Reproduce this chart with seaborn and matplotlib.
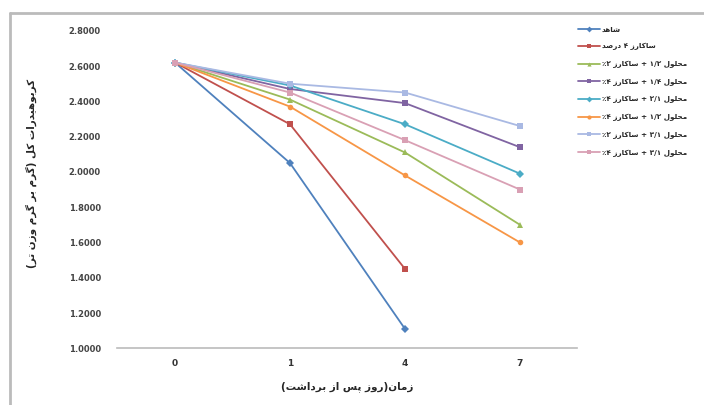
import matplotlib
matplotlib.use("Agg")
import matplotlib.pyplot as plt
import seaborn as sns
import pandas as pd
from matplotlib.lines import Line2D

# ---------------- data ----------------
days = ["0", "1", "4", "7"]
series_names = [
    "شاهد",
    "ساکارز ۴ درصد",
    "محلول ۱/۲ + ساکارز ۲٪",
    "محلول ۱/۴ + ساکارز ۴٪",
    "محلول ۲/۱ + ساکارز ۴٪",
    "محلول ۱/۲ + ساکارز ۴٪",
    "محلول ۳/۱ + ساکارز ۲٪",
    "محلول ۳/۱ + ساکارز ۴٪",
]
v_control = [2.62, 2.05, 1.11, None]
v_sucrose = [2.62, 2.27, 1.45, None]
v_green = [2.62, 2.41, 2.11, 1.70]
v_purple = [2.62, 2.47, 2.39, 2.14]
v_aqua = [2.62, 2.49, 2.27, 1.99]
v_orange = [2.62, 2.37, 1.98, 1.60]
v_lav = [2.62, 2.50, 2.45, 2.26]
v_pink = [2.62, 2.45, 2.18, 1.90]
all_values = [v_control, v_sucrose, v_green, v_purple, v_aqua, v_orange, v_lav, v_pink]

colors = ["#4F81BD", "#C0504D", "#9BBB59", "#8064A2", "#4BACC6", "#F79646",
          "#A9B9E3", "#D9A0B4"]
markers = ["D", "s", "^", "s", "D", "o", "s", "s"]

xlabel = "زمان(روز پس از برداشت)"
ylabel = "کربوهیدرات کل (گرم بر گرم وزن تر)"
yticks = [1.0, 1.2, 1.4, 1.6, 1.8, 2.0, 2.2, 2.4, 2.6, 2.8]

# ---------------- simple Persian shaping ----------------
FORMS = {
    "ا": ("\uFE8D", "\uFE8E", None, None),
    "ب": ("\uFE8F", "\uFE90", "\uFE91", "\uFE92"),
    "پ": ("\uFB56", "\uFB57", "\uFB58", "\uFB59"),
    "ت": ("\uFE95", "\uFE96", "\uFE97", "\uFE98"),
    "ث": ("\uFE99", "\uFE9A", "\uFE9B", "\uFE9C"),
    "ج": ("\uFE9D", "\uFE9E", "\uFE9F", "\uFEA0"),
    "چ": ("\uFB7A", "\uFB7B", "\uFB7C", "\uFB7D"),
    "ح": ("\uFEA1", "\uFEA2", "\uFEA3", "\uFEA4"),
    "خ": ("\uFEA5", "\uFEA6", "\uFEA7", "\uFEA8"),
    "د": ("\uFEA9", "\uFEAA", None, None),
    "ذ": ("\uFEAB", "\uFEAC", None, None),
    "ر": ("\uFEAD", "\uFEAE", None, None),
    "ز": ("\uFEAF", "\uFEB0", None, None),
    "ژ": ("\uFB8A", "\uFB8B", None, None),
    "س": ("\uFEB1", "\uFEB2", "\uFEB3", "\uFEB4"),
    "ش": ("\uFEB5", "\uFEB6", "\uFEB7", "\uFEB8"),
    "ص": ("\uFEB9", "\uFEBA", "\uFEBB", "\uFEBC"),
    "ض": ("\uFEBD", "\uFEBE", "\uFEBF", "\uFEC0"),
    "ط": ("\uFEC1", "\uFEC2", "\uFEC3", "\uFEC4"),
    "ظ": ("\uFEC5", "\uFEC6", "\uFEC7", "\uFEC8"),
    "ع": ("\uFEC9", "\uFECA", "\uFECB", "\uFECC"),
    "غ": ("\uFECD", "\uFECE", "\uFECF", "\uFED0"),
    "ف": ("\uFED1", "\uFED2", "\uFED3", "\uFED4"),
    "ق": ("\uFED5", "\uFED6", "\uFED7", "\uFED8"),
    "ک": ("\uFB8E", "\uFB8F", "\uFB90", "\uFB91"),
    "گ": ("\uFB92", "\uFB93", "\uFB94", "\uFB95"),
    "ل": ("\uFEDD", "\uFEDE", "\uFEDF", "\uFEE0"),
    "م": ("\uFEE1", "\uFEE2", "\uFEE3", "\uFEE4"),
    "ن": ("\uFEE5", "\uFEE6", "\uFEE7", "\uFEE8"),
    "و": ("\uFEED", "\uFEEE", None, None),
    "ه": ("\uFEE9", "\uFEEA", "\uFEEB", "\uFEEC"),
    "ی": ("\uFBFC", "\uFBFD", "\uFBFE", "\uFBFF"),
}
MIRROR = {"(": ")", ")": "("}
LTR_CH = set("0123456789۰۱۲۳۴۵۶۷۸۹/.")


def shape(s):
    out = []
    n = len(s)
    for i, c in enumerate(s):
        if c not in FORMS:
            out.append(c)
            continue
        f = FORMS[c]
        prev_j = i > 0 and s[i - 1] in FORMS and FORMS[s[i - 1]][2] is not None
        next_j = (f[2] is not None) and i + 1 < n and s[i + 1] in FORMS
        if prev_j and next_j:
            out.append(f[3])
        elif next_j:
            out.append(f[2])
        elif prev_j:
            out.append(f[1])
        else:
            out.append(f[0])
    shaped = "".join(out)
    runs = []
    for c in shaped:
        ltr = c in LTR_CH
        if runs and runs[-1][0] == ltr:
            runs[-1][1].append(c)
        else:
            runs.append([ltr, [c]])
    vis = []
    for ltr, chars in reversed(runs):
        if ltr:
            vis.append("".join(chars))
        else:
            vis.append("".join(MIRROR.get(ch, ch) for ch in reversed(chars)))
    return "".join(vis)


# ---------------- plotting ----------------
sns.set_theme(style="white")
plt.rcParams["font.family"] = ["DejaVu Sans"]

rows = []
for name, vals in zip(series_names, all_values):
    for d, v in zip(days, vals):
        if v is not None:
            rows.append({"day": d, "value": v, "series": shape(name)})
df = pd.DataFrame(rows)
df["x"] = df["day"].map({d: i for i, d in enumerate(days)})

fig = plt.figure(figsize=(7.04, 4.05), dpi=100)
ax = fig.add_axes([0.1669, 0.140, 0.6534, 0.784])

hue_order = [shape(n) for n in series_names]
sns.lineplot(data=df, x="x", y="value", hue="series", hue_order=hue_order,
             palette=colors, style="series", style_order=hue_order,
             markers=markers, dashes=False, markersize=4, linewidth=1.3,
             markeredgewidth=0.0, ax=ax, legend=False, sort=False)

ax.set_xlim(-0.5, 3.5)
ax.set_ylim(1.0, 2.8)
ax.set_xticks(range(len(days)))
ax.set_xticklabels(days, fontsize=6.5, fontweight="bold", color="#333333")
ax.set_yticks(yticks)
ax.set_yticklabels([f"{t:.4f}" for t in yticks], fontsize=6, fontweight="bold",
                   color="#444444")
ax.set_xticks([0.5, 1.5, 2.5], minor=True)
ax.tick_params(axis="x", which="minor", length=3, color="#BBBBBB", direction="out")
ax.tick_params(axis="x", which="major", length=0, pad=8)
ax.tick_params(axis="y", length=0, pad=12)
for side in ["top", "right", "left"]:
    ax.spines[side].set_visible(False)
ax.spines["bottom"].set_color("#BBBBBB")
ax.spines["bottom"].set_linewidth(1.2)
ax.set_xlabel(shape(xlabel), fontsize=7.5, fontweight="bold", labelpad=9)
ax.set_ylabel(shape(ylabel), fontsize=7.5, fontweight="bold")
ax.yaxis.set_label_coords(-0.175, 0.55)

handles = [Line2D([], [], color=c, marker=m, markersize=3, linewidth=1.3,
                  markeredgewidth=0)
           for c, m in zip(colors, markers)]
fig.legend(handles, hue_order, loc="upper left", bbox_to_anchor=(0.818, 0.94),
           frameon=False, prop={"weight": "bold", "size": 5.2},
           handlelength=3.0, labelspacing=1.45, handletextpad=0.3,
           borderaxespad=0, borderpad=0.3)

# chart border (left and top)
fig.add_artist(Line2D([9.5 / 704, 9.5 / 704], [0, 1 - 12.5 / 405],
                      transform=fig.transFigure, color="#BBBBBB", linewidth=2))
fig.add_artist(Line2D([9.5 / 704, 1], [1 - 12.5 / 405, 1 - 12.5 / 405],
                      transform=fig.transFigure, color="#BBBBBB", linewidth=2))

fig.savefig("out.png", dpi=100)
